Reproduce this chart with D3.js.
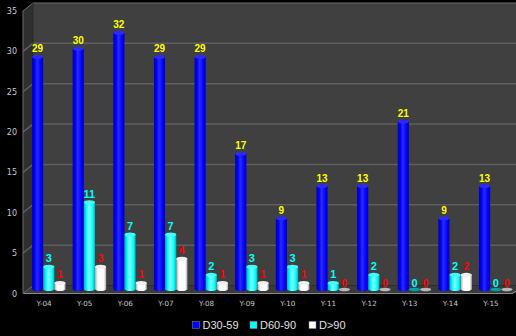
<!DOCTYPE html>
<html><head><meta charset="utf-8">
<script src="https://cdn.jsdelivr.net/npm/d3@7"></script>
<style>html,body{margin:0;padding:0;background:#000;}svg{display:block;}</style>
</head><body>
<svg id="c" width="516" height="336"></svg>
<script>
const categories = ["Y-04","Y-05","Y-06","Y-07","Y-08","Y-09","Y-10","Y-11","Y-12","Y-13","Y-14","Y-15"];
const seriesNames = ["D30-59","D60-90","D>90"];
const d30_59 = [29,30,32,29,29,17,9,13,13,21,9,13];
const d60_90 = [3,11,7,7,2,3,3,1,2,0,2,0];
const d90 = [1,3,1,4,1,1,1,0,0,0,2,0];
const yTicks = [0,5,10,15,20,25,30,35];
const seriesData = [d30_59, d60_90, d90];
const colors = {
  "D30-59": {dark:"#0000b0", mid:"#0000ff", light:"#2a2aff", top:"#2a2aff", label:"#ffff00", fs:"10px", fw:"bold"},
  "D60-90": {dark:"#00b0b0", mid:"#00ffff", light:"#8affff", top:"#40ffff", label:"#00ffff", fs:"11px", fw:"bold"},
  "D>90":   {dark:"#a8a8a8", mid:"#ffffff", light:"#ffffff", top:"#f0f0f0", label:"#ff0000", fs:"10px", fw:"bold"}
};

const svg = d3.select("#c");
const W = 516, H = 336;
svg.append("rect").attr("width",W).attr("height",H).attr("fill","#000");

const DX = 10;
const xFront = d3.scaleBand().domain(categories).range([23.7, 511.3]).padding(0);
const yFront = d3.scaleLinear().domain([0,35]).range([293.5, 11]);
const yBack = d3.scaleLinear().domain([0,35]).range([285.5, 3]);
const yBar = d3.scaleLinear().domain([0,35]).range([291, 8.5]);
const xSeries = d3.scaleBand().domain(seriesNames).range([-12, 21.5]).padding(0);

const xL = 23, xR = 512;
const defs = svg.append("defs");
seriesNames.forEach((s,i)=>{
  const c = colors[s];
  const g = defs.append("linearGradient").attr("id","g"+i).attr("x1","0").attr("x2","1").attr("y1","0").attr("y2","0");
  g.append("stop").attr("offset","0").attr("stop-color",c.dark);
  g.append("stop").attr("offset","0.25").attr("stop-color",c.mid);
  g.append("stop").attr("offset","0.45").attr("stop-color",c.light);
  g.append("stop").attr("offset","0.8").attr("stop-color",c.mid);
  g.append("stop").attr("offset","1").attr("stop-color",c.dark);
});

svg.append("path")
  .attr("d",`M${xL},${yFront(35)}L${xL+DX},${yBack(35)}L${xL+DX},${yBack(0)}L${xL},${yFront(0)}Z`)
  .attr("fill","#2f2f2f");
svg.append("path")
  .attr("d",`M${xL+DX},${yBack(35)}L${W},${yBack(35)}L${W},${yBack(0)}L${xL+DX},${yBack(0)}Z`)
  .attr("fill","#404040");
svg.append("path")
  .attr("d",`M${xL},${yFront(0)}L${xL+DX},${yBack(0)}L${W+10},${yBack(0)}L${xR},${yFront(0)}Z`)
  .attr("fill","#3a3a3a");
yTicks.filter(v=>v>0 && v<35).forEach(v=>{
  svg.append("path")
    .attr("d",`M${xL},${yFront(v)}L${xL+DX},${yBack(v)}L${W},${yBack(v)}`)
    .attr("fill","none").attr("stroke","#5e5e5e").attr("stroke-width",1.5);
});
svg.append("path")
  .attr("d",`M${xL},${yFront(0)}L${xL},${yFront(35)}L${xL+DX},${yBack(35)}L${W},${yBack(35)}`)
  .attr("fill","none").attr("stroke","#6a6a6a").attr("stroke-width",1);
svg.append("line").attr("x1",xL+DX).attr("x2",xL+DX).attr("y1",yBack(35)).attr("y2",yBack(0))
  .attr("stroke","#2a2a2a").attr("stroke-width",1);
svg.append("path")
  .attr("d",`M${xL},${yFront(0)}L${xR},${yFront(0)}L${W+10},${yBack(0)}`)
  .attr("fill","none").attr("stroke","#8a8a8a").attr("stroke-width",1.2);
svg.append("line").attr("x1",xL).attr("x2",xL+DX).attr("y1",yFront(0)).attr("y2",yBack(0))
  .attr("stroke","#6a6a6a").attr("stroke-width",1);

svg.append("g").selectAll("text").data(yTicks).join("text")
  .attr("x",17).attr("y",d=>yFront(d)+3)
  .attr("text-anchor","end").attr("fill","#c8c8c8")
  .style("font-family","DejaVu Sans, sans-serif").style("font-size","8px")
  .text(d=>d);

svg.append("g").selectAll("text").data(categories).join("text")
  .attr("x",d=>xFront(d)+xFront.bandwidth()/2).attr("y",306)
  .attr("text-anchor","middle").attr("fill","#c8c8c8")
  .style("font-family","DejaVu Sans, sans-serif").style("font-size","7.2px")
  .text(d=>d);

const bw = xSeries.bandwidth();
const ry = 2;
seriesNames.forEach((s,si)=>{
  const c = colors[s];
  const g = svg.append("g");
  const vals = seriesData[si];
  categories.forEach((cat,ci)=>{
    const v = vals[ci];
    const cx = xFront(cat)+xFront.bandwidth()/2 + xSeries(s);
    const base = yBar(0);
    const top = yBar(v);
    if (v > 0) {
      g.append("ellipse").attr("cx",cx+bw/2).attr("cy",base-ry).attr("rx",bw/2).attr("ry",ry)
        .attr("fill","url(#g"+si+")");
      g.append("rect").attr("x",cx).attr("y",top).attr("width",bw).attr("height",base-ry-top)
        .attr("fill","url(#g"+si+")");
      g.append("ellipse").attr("cx",cx+bw/2).attr("cy",top).attr("rx",bw/2).attr("ry",ry)
        .attr("fill",c.top);
    } else {
      g.append("ellipse").attr("cx",cx+bw/2).attr("cy",base-1.5).attr("rx",bw/2).attr("ry",1.8)
        .attr("fill", si===1 ? "#00a0a0" : "#b8b8b8");
    }
    g.append("text").attr("x",cx+bw/2).attr("y",top-4.5)
      .attr("text-anchor","middle").attr("fill",c.label)
      .style("font-family","Liberation Sans, Arial, sans-serif").style("font-size",c.fs)
      .style("font-weight",c.fw)
      .text(v);
  });
});

const legendX = [192.5, 250, 309];
const lg = svg.append("g");
seriesNames.forEach((s,i)=>{
  lg.append("rect").attr("x",legendX[i]).attr("y",321.5).attr("width",7).attr("height",7)
    .attr("fill",colors[s].mid).attr("stroke","#888").attr("stroke-width",0.5);
  lg.append("text").attr("x",legendX[i]+10).attr("y",329)
    .attr("fill","#e0e0e0")
    .style("font-family","Liberation Sans, Arial, sans-serif").style("font-size","11px")
    .text(s);
});
</script>
</body></html>
